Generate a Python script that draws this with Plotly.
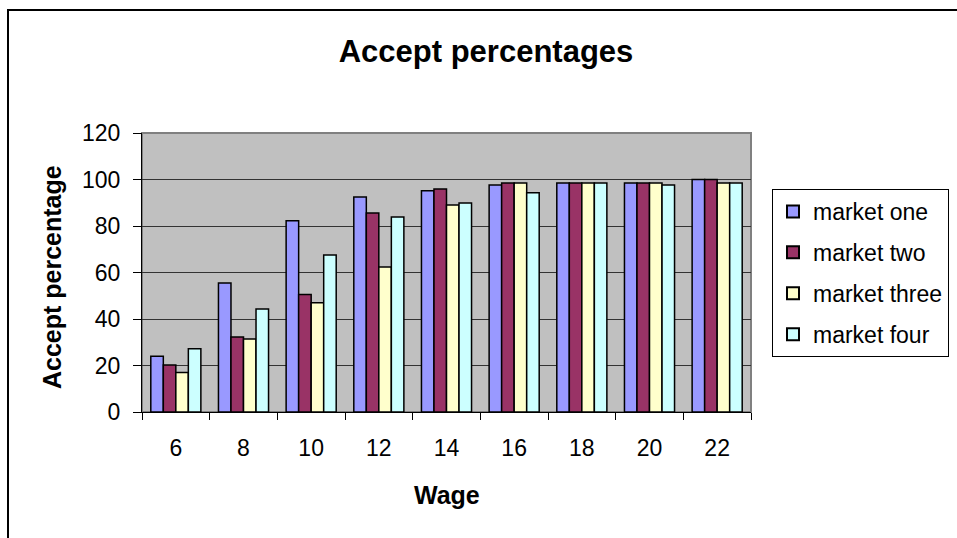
import plotly.graph_objects as go

wages = ["6", "8", "10", "12", "14", "16", "18", "20", "22"]
market_one = [24, 55.5, 82.3, 92.5, 95.2, 97.6, 98.5, 98.5, 100]
market_two = [20.2, 32.3, 50.5, 85.6, 95.9, 98.5, 98.5, 98.5, 100]
market_three = [17, 31.4, 47, 62.4, 89, 98.5, 98.5, 98.5, 98.5]
market_four = [27.2, 44.3, 67.5, 83.9, 89.9, 94.3, 98.5, 97.6, 98.5]
series_names = ["market one", "market two", "market three", "market four"]
series_colors = ["#9999FF", "#993366", "#FFFFCC", "#CCFFFF"]
y_ticks = [0, 20, 40, 60, 80, 100, 120]

W, H = 957, 538
L, R, T, B = 142, 751, 133, 412
pw, ph = R - L, B - T

def px_x(p):
    return (p - L) / pw

def px_y(p):
    return (B - p) / ph

FONT = "Liberation Sans, Arial, sans-serif"

fig = go.Figure()
for name, vals, col in zip(series_names, [market_one, market_two, market_three, market_four], series_colors):
    fig.add_trace(go.Bar(
        x=wages, y=vals, name=name, legendgroup=name,
        marker=dict(color=col, line=dict(color="black", width=1.5)),
    ))

fig.update_layout(
    width=W, height=H,
    margin=dict(l=L, r=W - R, t=T, b=H - B, autoexpand=False),
    paper_bgcolor="white",
    plot_bgcolor="#C0C0C0",
    barmode="group",
    bargap=0.26,
    bargroupgap=0,
    font=dict(family=FONT, size=22, color="black"),
    title=dict(text="<b>Accept percentages</b>", x=486 / W, xanchor="center",
               y=1 - 51 / H, yanchor="middle", font=dict(size=31, family=FONT)),
    xaxis=dict(type="category", showline=True, linecolor="black", linewidth=1,
               ticks="outside", tickson="boundaries", ticklen=7, tickcolor="black",
               showgrid=False, ticklabelstandoff=15, tickfont=dict(size=23)),
    yaxis=dict(range=[0, 120], tickvals=y_ticks, showline=True, linecolor="black", linewidth=1,
               ticks="outside", ticklen=8, tickcolor="black",
               showgrid=True, gridcolor="#333333", gridwidth=1, zeroline=False,
               ticklabelstandoff=8, tickfont=dict(size=23)),
    legend=dict(x=px_x(772), y=px_y(189), xanchor="left", yanchor="top",
                bordercolor="black", borderwidth=1, bgcolor="white",
                font=dict(size=23, family=FONT), tracegroupgap=8,
                itemsizing="constant"),
    showlegend=True,
)

# plot area border (gray) and outer chart border (black)
fig.add_shape(type="rect", xref="paper", yref="paper", x0=0, x1=1, y0=0, y1=1,
              line=dict(color="#808080", width=2), layer="below")
fig.add_shape(type="rect", xref="paper", yref="paper",
              x0=px_x(8), x1=px_x(975), y0=px_y(560), y1=px_y(10),
              line=dict(color="black", width=2), layer="above")

# axis titles
fig.add_annotation(text="<b>Accept percentage</b>", xref="paper", yref="paper",
                   x=px_x(52), y=px_y(277), textangle=-90, showarrow=False,
                   xanchor="center", yanchor="middle", font=dict(size=25, family=FONT))
fig.add_annotation(text="<b>Wage</b>", xref="paper", yref="paper",
                   x=px_x(447), y=px_y(495), showarrow=False,
                   xanchor="center", yanchor="middle", font=dict(size=25, family=FONT))

fig.write_html("out.html")
